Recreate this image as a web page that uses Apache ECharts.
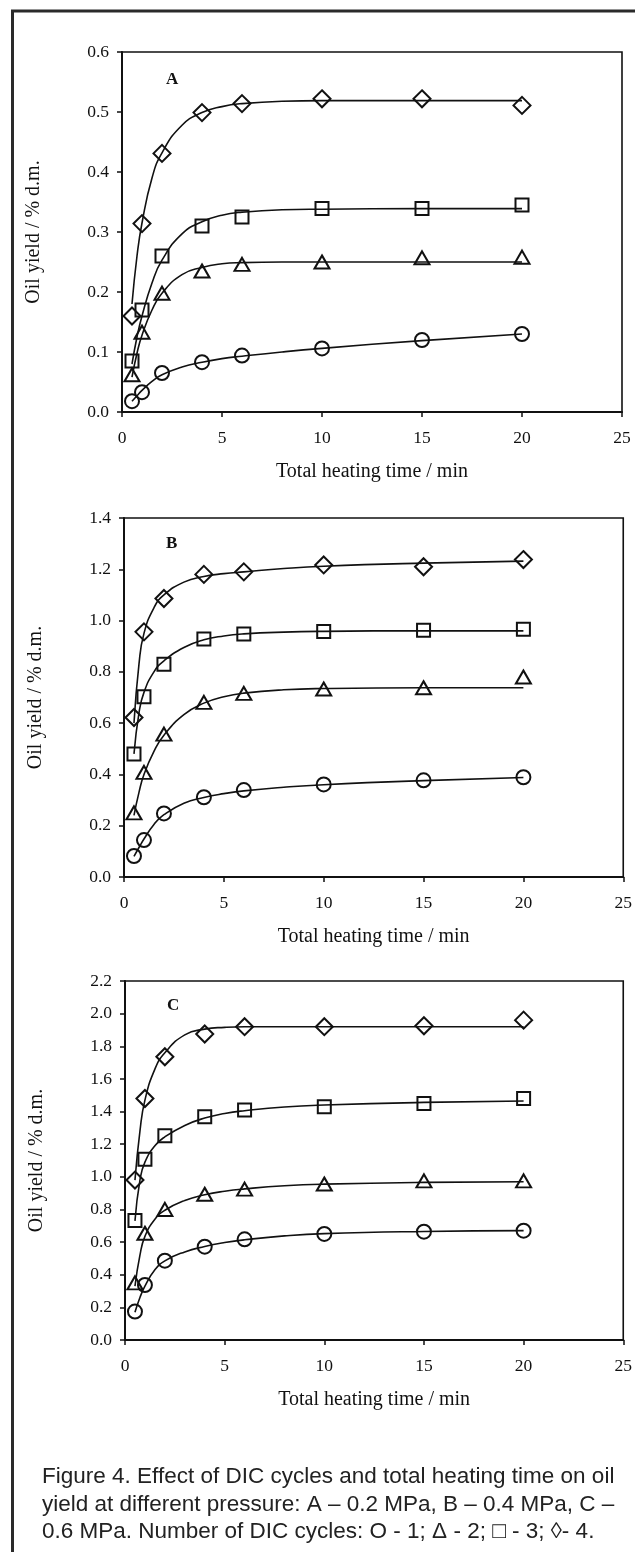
<!DOCTYPE html>
<html>
<head>
<meta charset="utf-8">
<script src="https://cdn.jsdelivr.net/npm/echarts@6/dist/echarts.min.js"></script>
<style>
  html, body { margin: 0; padding: 0; background: #ffffff; }
  #chart { width: 635px; height: 1552px; }
</style>
</head>
<body>
<div id="chart"></div>
<script>
// Sampling times of the measured points (min)
const times = [0.5, 1, 2, 4, 6, 10, 15, 20];
// Times at which the fitted kinetic curves are traced (min)
const fitTimes = [0.5, 0.75, 1, 1.5, 2, 3, 4, 5, 6, 8, 10, 15, 20];

// Tick labels
const xTicks = ['0', '5', '10', '15', '20', '25'];

// Panel A – 0.2 MPa, measured oil yield (% d.m.) for 1..4 DIC cycles
const aCycle1 = [0.018, 0.033, 0.065, 0.083, 0.094, 0.106, 0.120, 0.130];
const aCycle2 = [0.062, 0.133, 0.198, 0.235, 0.246, 0.250, 0.257, 0.258];
const aCycle3 = [0.085, 0.170, 0.260, 0.310, 0.325, 0.339, 0.339, 0.345];
const aCycle4 = [0.160, 0.314, 0.431, 0.499, 0.514, 0.522, 0.522, 0.511];
// Panel A fitted curves
const aFit1 = [0.018, 0.027, 0.036, 0.051, 0.062, 0.075, 0.083, 0.089, 0.093, 0.100, 0.106, 0.119, 0.130];
const aFit2 = [0.058, 0.098, 0.128, 0.170, 0.198, 0.229, 0.241, 0.247, 0.249, 0.250, 0.250, 0.250, 0.250];
const aFit3 = [0.080, 0.125, 0.160, 0.215, 0.253, 0.297, 0.317, 0.328, 0.333, 0.337, 0.338, 0.339, 0.339];
const aFit4 = [0.180, 0.260, 0.315, 0.390, 0.432, 0.478, 0.499, 0.509, 0.514, 0.518, 0.519, 0.519, 0.519];

// Panel B – 0.4 MPa
const bCycle1 = [0.082, 0.144, 0.248, 0.311, 0.339, 0.361, 0.377, 0.389];
const bCycle2 = [0.250, 0.408, 0.557, 0.681, 0.716, 0.733, 0.738, 0.780];
const bCycle3 = [0.480, 0.703, 0.830, 0.928, 0.948, 0.957, 0.962, 0.966];
const bCycle4 = [0.622, 0.956, 1.086, 1.180, 1.190, 1.217, 1.210, 1.238];
const bFit1 = [0.080, 0.115, 0.148, 0.205, 0.243, 0.288, 0.310, 0.325, 0.336, 0.350, 0.360, 0.376, 0.388];
const bFit2 = [0.240, 0.330, 0.400, 0.490, 0.553, 0.633, 0.678, 0.703, 0.717, 0.730, 0.735, 0.738, 0.738];
const bFit3 = [0.480, 0.640, 0.720, 0.800, 0.843, 0.895, 0.925, 0.940, 0.948, 0.955, 0.958, 0.960, 0.960];
const bFit4 = [0.600, 0.830, 0.950, 1.050, 1.100, 1.150, 1.172, 1.183, 1.190, 1.203, 1.212, 1.224, 1.232];

// Panel C – 0.6 MPa
const cCycle1 = [0.174, 0.337, 0.486, 0.572, 0.617, 0.650, 0.664, 0.670];
const cCycle2 = [0.350, 0.654, 0.800, 0.893, 0.925, 0.956, 0.975, 0.975];
const cCycle3 = [0.732, 1.107, 1.252, 1.368, 1.409, 1.430, 1.450, 1.480];
const cCycle4 = [0.980, 1.480, 1.736, 1.875, 1.920, 1.920, 1.926, 1.960];
const cFit1 = [0.170, 0.260, 0.330, 0.430, 0.485, 0.540, 0.573, 0.597, 0.614, 0.638, 0.652, 0.665, 0.670];
const cFit2 = [0.330, 0.520, 0.635, 0.740, 0.795, 0.855, 0.890, 0.912, 0.926, 0.945, 0.955, 0.966, 0.970];
const cFit3 = [0.730, 0.980, 1.090, 1.190, 1.245, 1.315, 1.360, 1.388, 1.405, 1.428, 1.440, 1.456, 1.465];
const cFit4 = [0.980, 1.280, 1.470, 1.660, 1.760, 1.870, 1.905, 1.916, 1.920, 1.920, 1.920, 1.920, 1.920];

const panelNames = ['A', 'B', 'C'];
const yMaxima = [0.6, 1.4, 2.2];
const yIntervals = [0.1, 0.2, 0.2];
const xTitle = 'Total heating time / min';
const yTitle = 'Oil yield / % d.m.';
const captionLines = [
  'Figure 4. Effect of DIC cycles and total heating time on oil',
  'yield at different pressure: A \u2013 0.2 MPa, B \u2013 0.4 MPa, C \u2013',
  '0.6 MPa. Number of DIC cycles: O - 1; \u0394 - 2; \u25A1 - 3; \u25CA- 4.'
];

const measured = [
  [aCycle1, aCycle2, aCycle3, aCycle4],
  [bCycle1, bCycle2, bCycle3, bCycle4],
  [cCycle1, cCycle2, cCycle3, cCycle4]
];
const fitted = [
  [aFit1, aFit2, aFit3, aFit4],
  [bFit1, bFit2, bFit3, bFit4],
  [cFit1, cFit2, cFit3, cFit4]
];

// Layout of the three stacked plots (pixels)
const layout = [
  { left: 122, top: 52,  width: 500, height: 360, letterX: 166, letterY: 71 },
  { left: 124, top: 518, width: 500, height: 359, letterX: 166, letterY: 535 },
  { left: 125, top: 981, width: 501, height: 359, letterX: 167, letterY: 997 }
];

// Symbols for 1, 2, 3, 4 cycles
const symbols = ['circle', 'triangle', 'rect', 'diamond'];
const symbolSizes = [14, [15, 13], 13, [17, 17]];

const serif = '"Liberation Serif", "Times New Roman", Times, serif';
const sans = '"Liberation Sans", Arial, Helvetica, sans-serif';
const ink = '#111111';

const grids = [], xAxes = [], yAxes = [], series = [];

layout.forEach((p, i) => {
  grids.push({
    left: p.left, top: p.top, width: p.width, height: p.height,
    show: true, borderColor: ink, borderWidth: 1.6,
    backgroundColor: 'rgba(0,0,0,0)', containLabel: false
  });
  xAxes.push({
    type: 'value', gridIndex: i, min: 0, max: 25, interval: 5,
    name: xTitle, nameLocation: 'middle', nameGap: 50,
    nameTextStyle: { fontFamily: serif, fontSize: 20, color: ink },
    axisLine: { show: true, onZero: false, lineStyle: { color: ink, width: 2 } },
    axisTick: { show: true, inside: false, length: 5, lineStyle: { color: ink, width: 1.5 } },
    axisLabel: {
      margin: 17, fontFamily: serif, fontSize: 17.5, color: ink,
      formatter: v => xTicks[Math.round(v / 5)]
    },
    splitLine: { show: false }
  });
  yAxes.push({
    type: 'value', gridIndex: i, min: 0, max: yMaxima[i], interval: yIntervals[i],
    name: yTitle, nameLocation: 'middle', nameGap: 78, nameRotate: 90,
    nameTextStyle: { fontFamily: serif, fontSize: 20, color: ink },
    axisLine: { show: true, onZero: false, lineStyle: { color: ink, width: 2 } },
    axisTick: { show: true, inside: false, length: 5, lineStyle: { color: ink, width: 1.5 } },
    axisLabel: {
      margin: 13, fontFamily: serif, fontSize: 17.5, color: ink,
      formatter: v => v.toFixed(1)
    },
    splitLine: { show: false }
  });

  for (let k = 0; k < 4; k++) {
    series.push({
      type: 'line', xAxisIndex: i, yAxisIndex: i,
      data: fitTimes.map((t, j) => [t, fitted[i][k][j]]),
      showSymbol: false, symbol: 'none',
      smooth: 0.5,
      lineStyle: { color: ink, width: 1.6 },
      z: 2, silent: true
    });
    series.push({
      type: 'scatter', xAxisIndex: i, yAxisIndex: i,
      data: times.map((t, j) => [t, measured[i][k][j]]),
      symbol: symbols[k], symbolSize: symbolSizes[k],
      itemStyle: { color: 'rgba(255,255,255,0)', borderColor: ink, borderWidth: 2, opacity: 1 },
      z: 3, silent: true
    });
  }
});

const graphics = [
  // outer frame around the whole figure
  {
    type: 'rect', shape: { x: 12.5, y: 11, width: 700, height: 1600 },
    style: { fill: 'none', stroke: '#2a2a2a', lineWidth: 3 }, silent: true
  }
];
layout.forEach((p, i) => {
  graphics.push({
    type: 'text', x: p.letterX, y: p.letterY,
    style: {
      text: panelNames[i], font: 'bold 17px ' + serif, fill: ink,
      textAlign: 'left', textVerticalAlign: 'top'
    }, silent: true
  });
});
captionLines.forEach((line, j) => {
  graphics.push({
    type: 'text', x: 42, y: 1477 + j * 27.5,
    style: {
      text: line, font: '22.5px ' + sans, fill: '#222222',
      textAlign: 'left', textVerticalAlign: 'middle'
    }, silent: true
  });
});

const chart = echarts.init(document.getElementById('chart'), null, { renderer: 'canvas' });
chart.setOption({
  animation: false,
  backgroundColor: '#ffffff',
  grid: grids,
  xAxis: xAxes,
  yAxis: yAxes,
  series: series,
  graphic: graphics
});
</script>
</body>
</html>
